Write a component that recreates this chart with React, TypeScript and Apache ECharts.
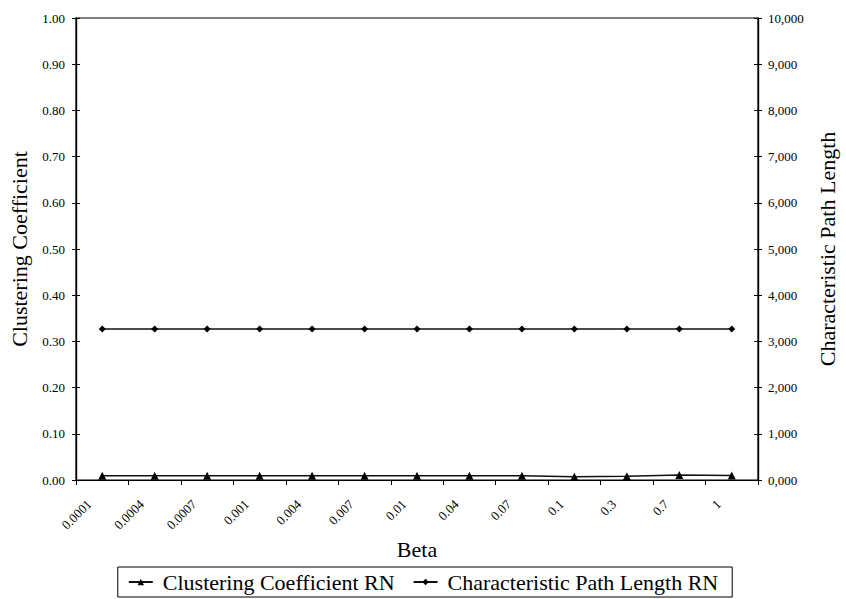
import React, { useEffect, useRef } from "react";
import * as echarts from "echarts";

const categories = ["0.0001", "0.0004", "0.0007", "0.001", "0.004", "0.007", "0.01", "0.04", "0.07", "0.1", "0.3", "0.7", "1"];
const clusteringRN = [0.009, 0.009, 0.009, 0.009, 0.009, 0.009, 0.009, 0.009, 0.009, 0.007, 0.008, 0.011, 0.01];
const pathLengthRN = [3270, 3270, 3270, 3270, 3270, 3270, 3270, 3270, 3270, 3270, 3270, 3270, 3270];

const FONT = "Liberation Serif";

export default function App() {
  const ref = useRef<HTMLDivElement>(null);
  useEffect(() => {
    if (!ref.current) return;
    const chart = echarts.init(ref.current, undefined, { renderer: "svg" });
    const axisLine = { show: true, lineStyle: { color: "#000", width: 1.2 } };
    const leftCommon = { type: "value", min: 0, max: 1, interval: 0.1, position: "left", splitLine: { show: false }, axisLine };
    const rightCommon = { type: "value", min: 0, max: 10000, interval: 1000, position: "right", splitLine: { show: false }, axisLine };
    chart.setOption({
      animation: false,
      textStyle: { fontFamily: FONT },
      grid: { left: 76, right: 78, top: 18, bottom: 119, show: true, borderColor: "#000", borderWidth: 1.2, containLabel: false },
      legend: {
        top: 567,
        left: "center",
        borderColor: "#000",
        borderWidth: 1,
        padding: [4, 14, 4, 10],
        itemGap: 18,
        itemWidth: 24,
        itemHeight: 8,
        textStyle: { fontFamily: FONT, fontSize: 22, color: "#000", padding: [0, 0, 0, 5] },
        data: ["Clustering Coefficient RN", "Characteristic Path Length RN"],
      },
      xAxis: {
        type: "category",
        data: categories,
        boundaryGap: true,
        name: "Beta",
        nameLocation: "middle",
        nameGap: 53,
        nameTextStyle: { fontFamily: FONT, fontSize: 22, color: "#000" },
        axisLine,
        axisTick: { show: true, alignWithLabel: false, length: 5, lineStyle: { color: "#000" } },
        axisLabel: {
          rotate: 45,
          fontFamily: FONT,
          fontSize: 13,
          color: "#000",
          margin: 18,
          interval: 0,
          align: "right",
          verticalAlign: "bottom",
          padding: [0, 12, 0, 0],
        },
      },
      yAxis: [
        {
          ...leftCommon,
          name: "Clustering Coefficient",
          nameLocation: "middle",
          nameRotate: 90,
          nameGap: 46,
          nameTextStyle: { fontFamily: FONT, fontSize: 22, color: "#000" },
          axisTick: { show: true, length: 4, lineStyle: { color: "#000" } },
          axisLabel: { fontFamily: FONT, fontSize: 13, color: "#000", margin: 11, formatter: (v: number) => v.toFixed(2) },
        },
        {
          ...rightCommon,
          name: "Characteristic Path Length",
          nameLocation: "middle",
          nameRotate: 90,
          nameGap: 58,
          nameTextStyle: { fontFamily: FONT, fontSize: 22, color: "#000" },
          axisTick: { show: true, length: 4, lineStyle: { color: "#000" } },
          axisLabel: {
            fontFamily: FONT,
            fontSize: 13,
            color: "#000",
            margin: 10,
            formatter: (v: number) => Math.floor(v / 1000) + ",000",
          },
        },
        {
          ...leftCommon,
          axisTick: { show: true, inside: true, length: 4, lineStyle: { color: "#000" } },
          axisLabel: { show: false },
        },
        {
          ...rightCommon,
          axisTick: { show: true, inside: true, length: 4, lineStyle: { color: "#000" } },
          axisLabel: { show: false },
        },
      ],
      series: [
        {
          name: "Clustering Coefficient RN",
          type: "line",
          yAxisIndex: 0,
          data: clusteringRN,
          symbol: "triangle",
          symbolSize: 8,
          lineStyle: { color: "#111", width: 1.5 },
          itemStyle: { color: "#000" },
        },
        {
          name: "Characteristic Path Length RN",
          type: "line",
          yAxisIndex: 1,
          data: pathLengthRN,
          symbol: "diamond",
          symbolSize: 7,
          lineStyle: { color: "#111", width: 1.5 },
          itemStyle: { color: "#000" },
        },
      ],
    });
    return () => chart.dispose();
  }, []);
  return <div ref={ref} style={{ width: 846, height: 599, position: "absolute", left: 0, top: 0 }} />;
}
